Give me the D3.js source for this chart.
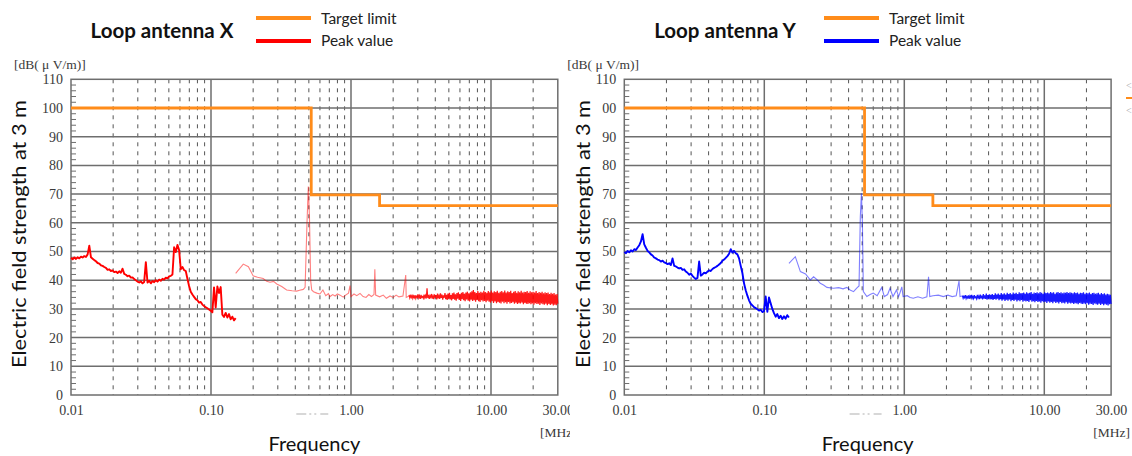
<!DOCTYPE html>
<html><head><meta charset="utf-8">
<script src="https://cdn.jsdelivr.net/npm/d3@7"></script>
<style>body{margin:0;background:#fff}svg{display:block}</style>
</head><body>
<svg id="c" width="1132" height="456"></svg>
<script>
// ---------- data ----------
const xTickValues = [0.01, 0.1, 1, 10, 30];
const xTickLabels = ["0.01", "0.10", "1.00", "10.00", "30.00"];
const yTickValues = [0, 10, 20, 30, 40, 50, 60, 70, 80, 90, 100, 110];
const yTickLabelsX = ["0", "10", "20", "30", "40", "50", "60", "70", "80", "90", "100", "110"];
const yTickLabelsY = ["0", "10", "20", "30", "40", "50", "60", "70", "80", "90", "00", "110"];
const minorFreqs = [0.02,0.03,0.04,0.05,0.06,0.07,0.08,0.09,0.2,0.3,0.4,0.5,0.6,0.7,0.8,0.9,2,3,4,5,6,7,8,9,20];
const decadeFreqs = [0.1, 1, 10];

const limitFreq = [0.01, 0.52, 0.52, 1.6, 1.6, 30];
const limitVal  = [100, 100, 69.7, 69.7, 66, 66];

// Loop antenna X (red) — segment A: 0.01–0.15 MHz, sweep points evenly spaced in log f
const xARange = [0.01, 0.15];
const xAVals = [47.8,47.3,47.9,47.4,48.0,47.6,48.2,47.9,48.4,48.1,49.0,52.0,48.0,47.5,47.0,46.6,46.0,45.8,45.2,45.0,
  44.6,44.3,43.6,43.8,43.2,43.4,42.8,43.0,42.5,43.1,42.6,44.0,42.2,41.9,41.4,41.6,40.9,41.0,40.4,40.0,
  39.5,39.2,39.6,38.9,39.4,46.3,39.2,39.8,38.9,39.7,39.3,40.0,39.5,40.2,39.8,40.5,40.2,40.9,40.6,41.3,
  41.5,42.0,51.5,49.8,52.3,50.5,43.8,44.6,43.5,43.2,40.5,38.0,36.0,35.0,34.2,33.4,33.0,32.2,32.4,31.5,
  31.0,30.6,30.2,29.8,29.4,28.8,37.5,30.5,37.8,35.5,37.6,28.0,27.2,28.6,27.0,28.2,26.4,27.3,26.0,26.8];
// segment B: 0.15–2.6 MHz (thin trace)
const xBFreq = [0.15,0.17,0.185,0.2,0.215,0.236,0.25,0.264,0.28,0.295,0.32,0.347,0.38,0.409,0.43,0.456,0.47,0.485,0.4955,0.505,0.515,0.524,0.54,0.57,0.6,0.63,0.66,0.69,0.708,0.74,0.77,0.8,0.836,0.88,0.92,0.96,0.984,1.0,1.05,1.1,1.16,1.22,1.28,1.34,1.4,1.46,1.48,1.5,1.6,1.7,1.79,1.9,2.0,2.1,2.2,2.35,2.46,2.48,2.6];
const xBVals = [42.4,45.6,44.7,41.5,41.0,40.6,39.6,39.3,39.6,38.7,37.8,36.6,36.3,36.2,36.5,36.8,37.5,60,72.6,62,40,36.6,36.0,35.5,35.2,36.6,34.6,35.3,34.3,35.0,34.5,35.2,34.8,34.1,34.9,35.5,38.1,34.3,35.2,34.6,35.4,34.3,34.0,35.0,34.3,35.0,43.8,34.8,34.2,34.8,33.7,34.5,34.0,34.8,34.2,34.5,41.8,34.0,34.5];
// segment C: 2.6–30 MHz (dense noise band)
const xCRange = [2.6, 30];
const xCVals = [34.9,33.8,34.6,34.0,35.0,33.7,34.5,33.9,34.8,33.6,34.4,34.1,35.1,33.8,34.6,33.5,34.9,34.0,34.3,33.7,
  35.0,33.9,34.7,33.6,37.2,33.8,34.9,33.5,34.6,34.0,35.2,33.6,34.5,33.4,35.1,33.9,34.8,33.3,35.3,33.7,
  34.6,33.5,35.4,33.8,35.0,33.2,34.7,33.9,35.5,33.4,34.9,33.1,35.3,33.6,35.6,33.3,34.8,33.0,35.4,33.5,
  35.7,33.2,35.1,32.9,35.5,33.6,35.8,33.1,35.2,32.8,35.6,33.4,35.9,33.0,35.3,32.7,35.7,33.3,36.0,32.9,
  35.4,32.6,35.8,33.2,36.1,32.8,36.6,33.0,35.9,32.5,35.5,33.1,36.2,32.7,35.6,32.4,36.0,33.0,35.7,32.6,
  36.3,32.8,35.9,32.3,35.6,32.9,36.2,32.5,35.8,32.2,36.4,32.7,35.7,32.1,36.1,32.6,35.9,32.0,36.3,32.4,
  35.6,32.2,36.0,31.9,36.2,32.5,35.8,32.0,36.4,32.3,35.7,31.8,36.1,32.4,35.9,31.9,36.3,32.1,35.5,32.3,
  36.0,31.8,36.2,32.2,35.6,31.7,36.1,32.0,35.8,31.9,36.3,32.2,35.7,31.6,36.0,32.1,35.9,31.8,36.2,31.7,
  35.6,32.0,36.1,31.6,35.8,31.9,36.0,31.5,35.7,32.0,36.2,31.7,35.5,31.8,35.9,31.4,35.6,31.9,36.0,31.6,
  35.4,31.5,35.8,31.8,35.5,31.3,35.7,31.7,35.2,31.4,35.6,31.6,35.3,31.2,35.5,31.5,35.0,31.3,35.2,31.8];

// Loop antenna Y (blue)
const yARange = [0.01, 0.15];
const yAVals = [49.8,49.4,50.2,49.7,50.4,50.0,50.8,50.5,51.4,52.2,53.5,56.0,52.5,51.3,50.2,49.7,49.0,48.6,47.9,47.6,
  47.2,47.0,46.5,46.8,46.2,46.0,45.6,45.9,45.3,47.6,45.0,44.8,44.4,44.1,44.3,43.6,43.8,43.0,42.6,41.9,
  42.3,41.5,40.9,40.4,40.8,46.5,41.6,42.0,42.6,42.4,43.0,43.4,43.2,43.9,44.3,44.6,45.0,45.5,46.0,46.8,
  47.2,47.8,48.4,49.2,50.8,49.6,50.2,49.4,49.0,47.6,45.0,42.5,38.9,36.5,34.6,33.0,31.8,31.2,30.6,30.3,
  29.9,29.4,29.7,28.9,29.2,34.3,29.0,34.0,32.0,30.0,28.5,27.3,28.2,26.8,27.6,26.5,27.4,26.6,27.8,27.0];
const yBFreq = [0.15,0.1665,0.181,0.197,0.213,0.225,0.24,0.251,0.265,0.28,0.312,0.34,0.365,0.389,0.41,0.434,0.459,0.475,0.485,0.494,0.502,0.51,0.54,0.57,0.6,0.64,0.69,0.72,0.76,0.79,0.83,0.88,0.91,0.93,0.96,0.98,1.05,1.1,1.16,1.25,1.35,1.45,1.49,1.52,1.6,1.75,1.9,2.05,2.2,2.35,2.46,2.5,2.6];
const yBVals = [45.9,48.2,43.0,42.2,40.1,41.2,40.0,38.9,38.3,37.5,37.2,37.4,37.0,37.5,36.6,36.0,37.3,38.0,62,70.3,60,36.0,34.3,35.0,35.5,34.6,37.5,34.3,35.0,37.2,34.3,36.6,34.3,35.5,37.7,34.3,34.6,34.0,33.7,34.2,33.7,34.2,41.2,34.3,34.6,34.8,34.3,34.8,34.3,34.6,39.8,34.3,34.5];
const yCRange = [2.6, 30];
const yCVals = [34.6,33.7,34.4,33.9,34.8,33.6,34.3,33.8,34.7,33.5,34.5,34.0,34.9,33.7,34.4,33.6,34.8,33.9,34.2,33.5,
  34.9,33.8,34.5,33.4,35.0,33.7,34.6,33.3,35.2,33.6,34.7,33.5,35.3,33.2,34.8,33.6,35.1,33.3,34.9,33.4,
  35.2,33.1,34.8,33.5,35.4,33.2,35.0,33.6,35.3,33.0,34.9,33.4,35.5,32.9,35.1,33.3,35.4,32.8,35.0,33.2,
  35.6,32.9,35.2,33.3,35.5,32.7,35.1,33.1,35.7,32.8,35.3,33.2,35.6,32.6,35.2,33.0,35.8,32.7,35.4,33.1,
  35.5,32.5,35.7,32.9,35.3,32.6,35.8,32.8,35.4,32.4,35.6,33.0,35.9,32.5,35.3,32.7,35.7,32.3,35.5,32.8,
  35.8,32.4,35.4,32.6,35.9,32.2,35.6,32.7,35.3,32.3,35.8,32.5,35.5,32.1,35.7,32.6,35.4,32.2,35.9,32.4,
  35.6,32.0,35.8,32.5,35.3,32.1,35.7,32.3,35.9,31.9,35.5,32.4,35.8,32.0,35.4,32.2,35.7,31.9,35.6,32.3,
  35.9,31.8,35.5,32.2,35.8,31.9,35.6,32.1,35.4,31.7,35.8,32.0,35.5,31.9,35.7,31.6,35.3,32.1,35.6,31.8,
  35.5,31.7,35.8,31.9,35.3,31.6,35.6,32.0,35.4,31.5,35.7,31.8,35.2,31.7,35.5,31.4,35.6,31.9,35.3,31.6,
  35.4,31.5,35.6,31.8,35.1,31.4,35.5,31.7,35.2,31.3,35.4,31.6,35.0,31.5,35.3,31.2,35.1,31.6,34.9,31.7];

// ---------- drawing ----------
const svg = d3.select("#c");
const ORANGE = "#ff8c1a";
const GRID = "#6e6e6e";
const serif = "'Liberation Serif','DejaVu Serif',serif";
const sans = "Lato,'Open Sans',sans-serif";

svg.append("defs").append("clipPath").attr("id","leftClip")
  .append("rect").attr("x",0).attr("y",0).attr("width",570).attr("height",456);

function sweep(range, vals){
  const n = vals.length, lr = Math.log(range[1]/range[0]);
  return vals.map((v,i)=>[range[0]*Math.exp(lr*i/(n-1)), v]);
}
function pairs(f, v){ return f.map((d,i)=>[d, v[i]]); }

function panel(cfg){
  const g = svg.append("g");
  if (cfg.clip) g.attr("clip-path","url(#leftClip)");
  const x = d3.scaleLog().domain([0.01,30]).range([cfg.x0, cfg.x0 + 140*Math.log10(3000)]);
  const y = d3.scaleLinear().domain([0,110]).range([395, 79.3]);
  const [xl, xr] = x.range();

  // minor y ticks
  g.append("g").selectAll("line").data(d3.range(0,110,2).filter(d=>d%10!==0)).join("line")
    .attr("x1",xl).attr("x2",xl+5).attr("y1",d=>y(d)).attr("y2",d=>y(d))
    .attr("stroke",GRID).attr("stroke-width",1);
  // dashed minor vertical grid
  g.append("g").selectAll("line").data(minorFreqs).join("line")
    .attr("x1",d=>x(d)).attr("x2",d=>x(d)).attr("y1",y(110)).attr("y2",y(0))
    .attr("stroke","#555").attr("stroke-width",1).attr("stroke-dasharray","4,5");
  // horizontal grid
  g.append("g").selectAll("line").data(yTickValues.slice(1,-1)).join("line")
    .attr("x1",xl).attr("x2",xr).attr("y1",d=>y(d)).attr("y2",d=>y(d))
    .attr("stroke",GRID).attr("stroke-width",1.5);
  // decade lines
  g.append("g").selectAll("line").data(decadeFreqs).join("line")
    .attr("x1",d=>x(d)).attr("x2",d=>x(d)).attr("y1",y(110)).attr("y2",y(0))
    .attr("stroke",GRID).attr("stroke-width",1.5);
  // frame
  g.append("rect").attr("x",xl).attr("y",y(110)).attr("width",xr-xl).attr("height",y(0)-y(110))
    .attr("fill","none").attr("stroke",GRID).attr("stroke-width",1.5);

  // axes labels via d3 axes
  const ya = g.append("g").attr("transform",`translate(${xl},0)`)
    .call(d3.axisLeft(y).tickValues(yTickValues).tickFormat((d,i)=>cfg.yLabels[i]).tickSize(0).tickPadding(8));
  ya.select(".domain").remove();
  ya.selectAll("text").attr("font-family",serif).attr("font-size",14).attr("fill","#3a3a3a");
  const xa = g.append("g").attr("transform",`translate(0,${y(0)})`)
    .call(d3.axisBottom(x).tickValues(xTickValues).tickFormat((d,i)=>xTickLabels[i]).tickSize(0).tickPadding(10));
  xa.select(".domain").remove();
  xa.selectAll("text").attr("font-family",serif).attr("font-size",14).attr("fill","#3a3a3a");

  g.append("text").attr("x",xl-57).attr("y",69).text("[dB( \u03bc V/m)]")
    .attr("font-family",serif).attr("font-size",13.5).attr("fill","#3a3a3a");
  g.append("text").attr("x",xr+19).attr("y",437).attr("text-anchor","end").text("[MHz]")
    .attr("font-family",serif).attr("font-size",13.5).attr("fill","#3a3a3a");
  g.append("line").attr("x1",x(0.4)+1).attr("x2",x(0.4)+38).attr("y1",414).attr("y2",414)
    .attr("stroke","#b0b0b0").attr("stroke-width",1.2).attr("stroke-dasharray","10,3,2,3,2,4,8");

  // limit line
  const line = d3.line().x(d=>x(d[0])).y(d=>y(d[1]));
  g.append("path").datum(pairs(limitFreq,limitVal)).attr("d",line)
    .attr("fill","none").attr("stroke",ORANGE).attr("stroke-width",2.8);
  // peak trace
  g.append("path").datum(sweep(cfg.A[0],cfg.A[1])).attr("d",line)
    .attr("fill","none").attr("stroke",cfg.color).attr("stroke-width",1.9).attr("stroke-linejoin","round");
  g.append("path").datum(pairs(cfg.B[0],cfg.B[1])).attr("d",line)
    .attr("fill","none").attr("stroke",cfg.color).attr("stroke-opacity",0.5).attr("stroke-width",1.1);
  g.append("path").datum(sweep(cfg.C[0],cfg.C[1])).attr("d",line)
    .attr("fill","none").attr("stroke",cfg.color).attr("stroke-opacity",0.9).attr("stroke-width",1.2);

  // titles
  g.append("text").attr("transform",`translate(${cfg.yTitleX},234) rotate(-90)`).attr("text-anchor","middle")
    .text("Electric field strength at  3 m").attr("font-family",sans).attr("font-size",20).attr("fill","#111")
    .attr("textLength",268).attr("lengthAdjust","spacingAndGlyphs");
  g.append("text").attr("x",(xl+xr)/2).attr("y",451).attr("text-anchor","middle").text("Frequency")
    .attr("font-family",sans).attr("font-size",20).attr("fill","#111");
  g.append("text").attr("x",cfg.titleX).attr("y",38).attr("text-anchor","middle").text(cfg.title)
    .attr("font-family",sans).attr("font-weight","bold").attr("font-size",20.5).attr("fill","#111");
  // legend
  const lx = cfg.legendX;
  g.append("line").attr("x1",lx).attr("x2",lx+55).attr("y1",18).attr("y2",18).attr("stroke",ORANGE).attr("stroke-width",4);
  g.append("line").attr("x1",lx).attr("x2",lx+55).attr("y1",41).attr("y2",41).attr("stroke",cfg.color).attr("stroke-width",4);
  g.append("text").attr("x",lx+65).attr("y",24).text("Target limit").attr("font-family",sans).attr("font-size",15.5).attr("fill","#222");
  g.append("text").attr("x",lx+65).attr("y",46).text("Peak value").attr("font-family",sans).attr("font-size",15.5).attr("fill","#222");
}

panel({x0:71, clip:true, color:"#ff0000", yLabels:yTickLabelsX, yTitleX:26, title:"Loop antenna X", titleX:162, legendX:256,
  A:[xARange,xAVals], B:[xBFreq,xBVals], C:[xCRange,xCVals]});
panel({x0:624.3, clip:false, color:"#0000ff", yLabels:yTickLabelsY, yTitleX:590, title:"Loop antenna Y", titleX:725, legendX:824,
  A:[yARange,yAVals], B:[yBFreq,yBVals], C:[yCRange,yCVals]});

// cropped marks at the far right edge
svg.append("text").attr("x",1126).attr("y",89).text("<").attr("font-family",serif).attr("font-size",10).attr("fill","#aaa");
svg.append("line").attr("x1",1126).attr("x2",1132).attr("y1",98).attr("y2",98).attr("stroke",ORANGE).attr("stroke-width",2);
svg.append("text").attr("x",1126).attr("y",114).text("<").attr("font-family",serif).attr("font-size",10).attr("fill","#aaa");
</script>
</body></html>
